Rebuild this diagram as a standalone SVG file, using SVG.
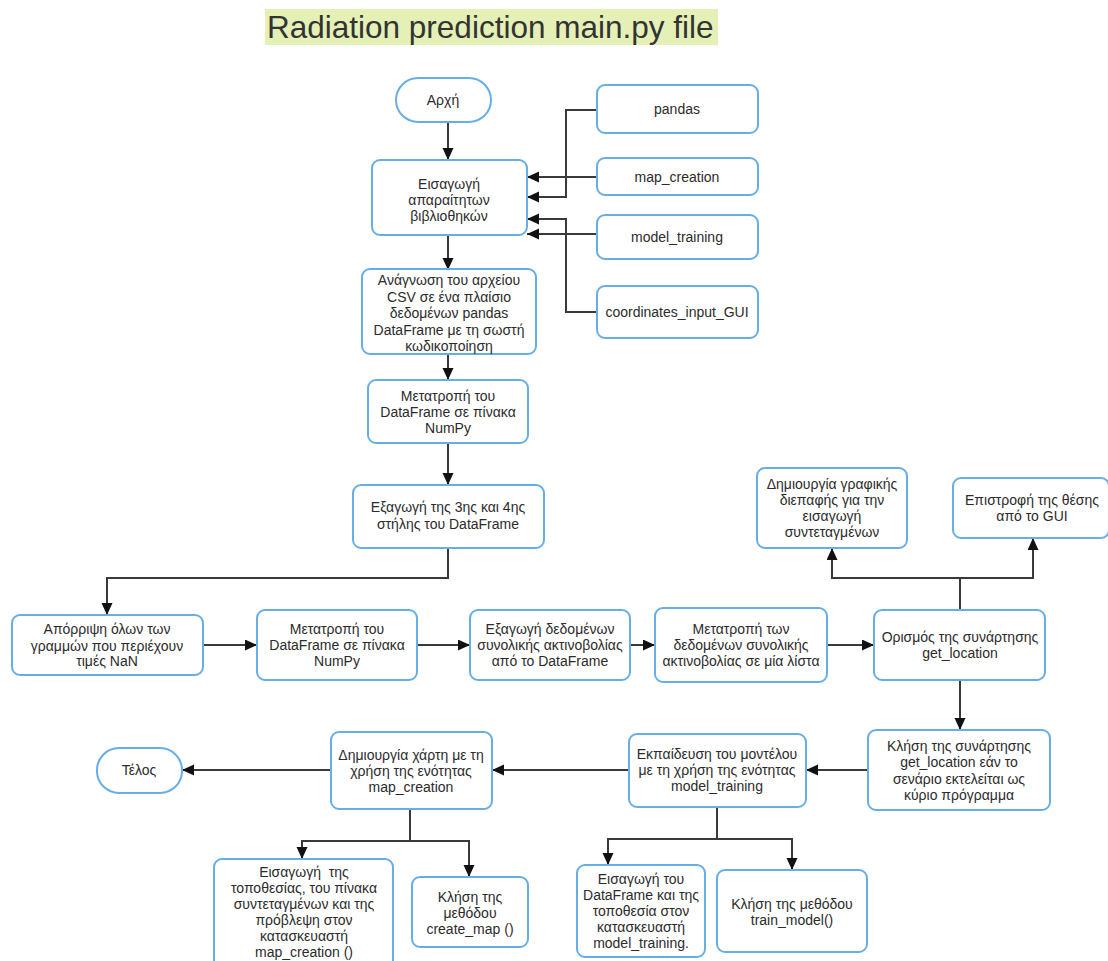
<svg xmlns="http://www.w3.org/2000/svg" width="1108" height="961" viewBox="0 0 1108 961">
<defs>
<marker id="arr" markerUnits="userSpaceOnUse" markerWidth="13" markerHeight="12" refX="12" refY="5.5" orient="auto">
<path d="M0,0 L12,5.5 L0,11 Z" fill="#111"/>
</marker>
<style>
.box{fill:#fff;stroke:#68aee6;stroke-width:2}
.t{font-family:"Liberation Sans",Arial,sans-serif;font-size:14px;fill:#2b2b2b;text-anchor:middle}
.c path{fill:none;stroke:#3a3a3a;stroke-width:2;marker-end:url(#arr)}
</style>
</defs>
<rect width="1108" height="961" fill="#fff"/>
<g id="title">
<rect x="265" y="9" width="453" height="36" fill="#e4f0b6"/>
<text x="267" y="38" font-family="Liberation Sans, Arial, sans-serif" font-size="31.5" fill="#333">Radiation prediction main.py file</text>
</g>
<g class="c" id="connectors">
<path d="M448,122 V160"/>
<path d="M597,110 H566 V197 H527"/>
<path d="M597,177 H527"/>
<path d="M597,234 H527"/>
<path d="M597,312 H566 V219 H527"/>
<path d="M448,235 V270"/>
<path d="M448,355 V380"/>
<path d="M448,443 V485"/>
<path d="M448,548 V578 H107 V615"/>
<path d="M203,645 H257"/>
<path d="M417,645 H470"/>
<path d="M630,645 H655"/>
<path d="M827,645 H874"/>
<path d="M960,610 V578 H832 V548"/>
<path d="M960,578 H1033 V538"/>
<path d="M960,680 V730"/>
<path d="M868,770 H806"/>
<path d="M629,770 H492"/>
<path d="M331,770 H182"/>
<path d="M410,809 V841 H302 V859"/>
<path d="M410,841 H469 V877"/>
<path d="M717,807 V839 H608 V865"/>
<path d="M717,839 H792 V870"/>
</g>
<g id="start"><rect class="box" x="396" y="78" width="95" height="44" rx="22"/><text class="t" x="443" y="105">Αρχή</text></g>
<g id="imports"><rect class="box" x="372" y="160" width="155" height="75" rx="8"/><text class="t"><tspan x="449" y="189">Εισαγωγή</tspan><tspan x="449" y="205">απαραίτητων</tspan><tspan x="449" y="221">βιβλιοθηκών</tspan></text></g>
<g id="pandas"><rect class="box" x="597" y="85" width="161" height="48" rx="8"/><text class="t" x="677" y="114">pandas</text></g>
<g id="map_creation"><rect class="box" x="597" y="158" width="161" height="37" rx="8"/><text class="t" x="677" y="182">map_creation</text></g>
<g id="model_training"><rect class="box" x="597" y="215" width="161" height="44" rx="8"/><text class="t" x="677" y="242">model_training</text></g>
<g id="coordinates_input_GUI"><rect class="box" x="597" y="286" width="161" height="52" rx="8"/><text class="t" x="677" y="317">coordinates_input_GUI</text></g>
<g id="read_csv"><rect class="box" x="362" y="269" width="174" height="85" rx="8"/><text class="t"><tspan x="449" y="285">Ανάγνωση του αρχείου</tspan><tspan x="449" y="301.5">CSV σε ένα πλαίσιο</tspan><tspan x="449" y="318">δεδομένων pandas</tspan><tspan x="449" y="334.5">DataFrame με τη σωστή</tspan><tspan x="449" y="351">κωδικοποίηση</tspan></text></g>
<g id="to_numpy1"><rect class="box" x="368" y="380" width="160" height="63" rx="8"/><text class="t"><tspan x="448" y="401">Μετατροπή του</tspan><tspan x="448" y="417">DataFrame σε πίνακα</tspan><tspan x="448" y="433">NumPy</tspan></text></g>
<g id="extract_cols"><rect class="box" x="353" y="485" width="191" height="63" rx="8"/><text class="t"><tspan x="448" y="512">Εξαγωγή της 3ης και 4ης</tspan><tspan x="448" y="529">στήλης του DataFrame</tspan></text></g>
<g id="dropna"><rect class="box" x="12" y="615" width="191" height="60" rx="8"/><text class="t"><tspan x="107" y="634">Απόρριψη όλων των</tspan><tspan x="107" y="650.5">γραμμών που περιέχουν</tspan><tspan x="107" y="666">τιμές NaN</tspan></text></g>
<g id="to_numpy2"><rect class="box" x="257" y="610" width="160" height="70" rx="8"/><text class="t"><tspan x="337" y="634">Μετατροπή του</tspan><tspan x="337" y="650">DataFrame σε πίνακα</tspan><tspan x="337" y="666">NumPy</tspan></text></g>
<g id="extract_rad"><rect class="box" x="470" y="610" width="160" height="70" rx="8"/><text class="t"><tspan x="550" y="634">Εξαγωγή δεδομένων</tspan><tspan x="550" y="650">συνολικής ακτινοβολίας</tspan><tspan x="550" y="666">από το DataFrame</tspan></text></g>
<g id="to_list"><rect class="box" x="655" y="608" width="172" height="74" rx="8"/><text class="t"><tspan x="741" y="634">Μετατροπή των</tspan><tspan x="741" y="650">δεδομένων συνολικής</tspan><tspan x="741" y="666">ακτινοβολίας σε μία λίστα</tspan></text></g>
<g id="def_get_location"><rect class="box" x="874" y="610" width="171" height="70" rx="8"/><text class="t"><tspan x="960" y="642">Ορισμός της συνάρτησης</tspan><tspan x="960" y="658">get_location</tspan></text></g>
<g id="gui_create"><rect class="box" x="757" y="468" width="150" height="80" rx="8"/><text class="t"><tspan x="832" y="489">Δημιουργία γραφικής</tspan><tspan x="832" y="505">διεπαφής για την</tspan><tspan x="832" y="521">εισαγωγή</tspan><tspan x="832" y="537">συντεταγμένων</tspan></text></g>
<g id="gui_return"><rect class="box" x="953" y="478" width="156" height="60" rx="8"/><text class="t"><tspan x="1032" y="505">Επιστροφή της θέσης</tspan><tspan x="1032" y="521">από το GUI</tspan></text></g>
<g id="call_get_location"><rect class="box" x="868" y="730" width="182" height="80" rx="8"/><text class="t"><tspan x="959" y="751">Κλήση της συνάρτησης</tspan><tspan x="959" y="767">get_location εάν το</tspan><tspan x="959" y="783.5">σενάριο εκτελείται ως</tspan><tspan x="959" y="799.5">κύριο πρόγραμμα</tspan></text></g>
<g id="train"><rect class="box" x="629" y="734" width="177" height="73" rx="8"/><text class="t"><tspan x="717" y="759">Εκπαίδευση του μοντέλου</tspan><tspan x="717" y="775">με τη χρήση της ενότητας</tspan><tspan x="717" y="791">model_training</tspan></text></g>
<g id="make_map"><rect class="box" x="331" y="732" width="161" height="77" rx="8"/><text class="t"><tspan x="411" y="760">Δημιουργία χάρτη με τη</tspan><tspan x="411" y="776">χρήση της ενότητας</tspan><tspan x="411" y="792">map_creation</tspan></text></g>
<g id="end"><rect class="box" x="97" y="748" width="85" height="45" rx="22"/><text class="t" x="139" y="775">Τέλος</text></g>
<g id="map_ctor"><rect class="box" x="214" y="859" width="179" height="120" rx="8"/><text class="t" xml:space="preserve"><tspan x="304" y="877">Εισαγωγή  της</tspan><tspan x="304" y="893">τοποθεσίας, του πίνακα</tspan><tspan x="304" y="909">συντεταγμένων και της</tspan><tspan x="304" y="925">πρόβλεψη στον</tspan><tspan x="304" y="941">κατασκευαστή</tspan><tspan x="304" y="957">map_creation ()</tspan></text></g>
<g id="create_map"><rect class="box" x="412" y="877" width="116" height="70" rx="8"/><text class="t"><tspan x="470" y="902">Κλήση της</tspan><tspan x="470" y="918">μεθόδου</tspan><tspan x="470" y="934">create_map ()</tspan></text></g>
<g id="train_ctor"><rect class="box" x="577" y="865" width="128" height="92" rx="8"/><text class="t"><tspan x="641" y="884">Εισαγωγή του</tspan><tspan x="641" y="900">DataFrame και της</tspan><tspan x="641" y="916">τοποθεσία στον</tspan><tspan x="641" y="932">κατασκευαστή</tspan><tspan x="641" y="948">model_training.</tspan></text></g>
<g id="train_model"><rect class="box" x="717" y="870" width="150" height="82" rx="8"/><text class="t"><tspan x="792" y="909">Κλήση της μεθόδου</tspan><tspan x="792" y="925">train_model()</tspan></text></g>
</svg>
